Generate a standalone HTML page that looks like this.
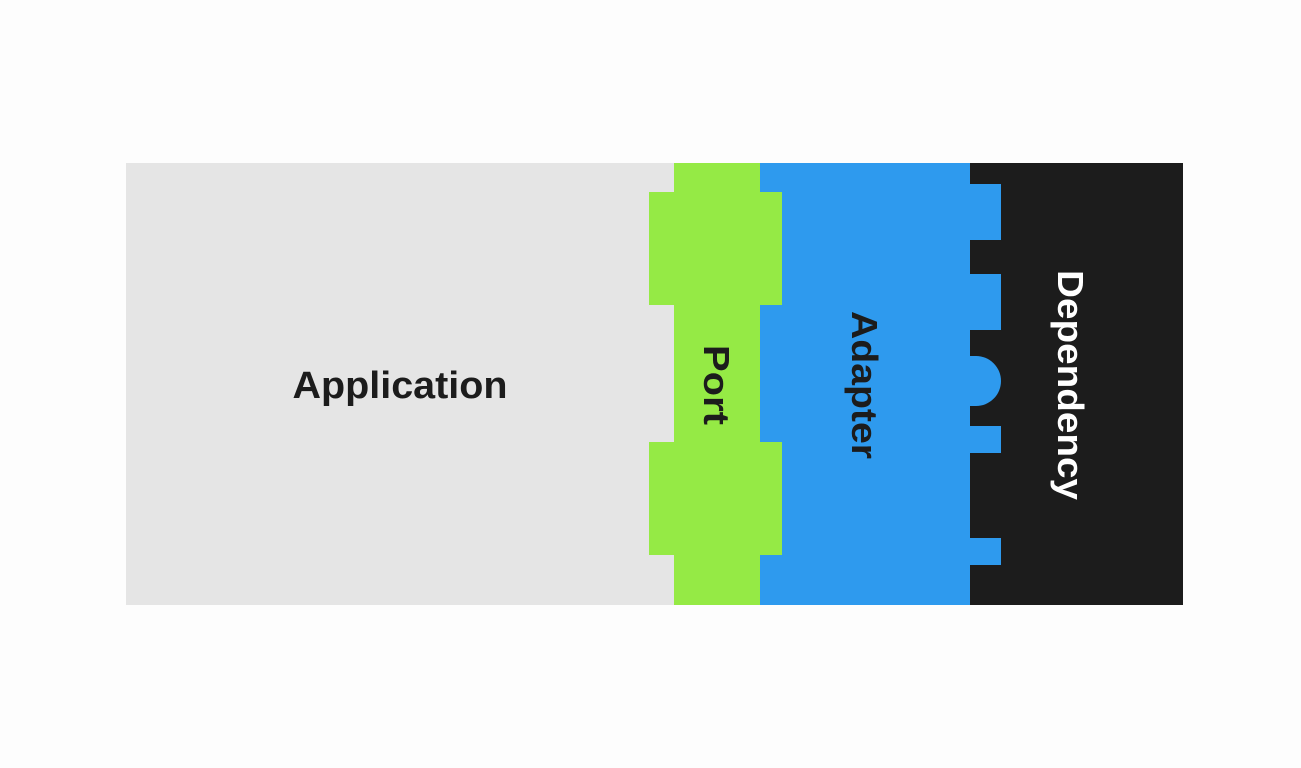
<!DOCTYPE html>
<html><head><meta charset="utf-8"><style>html,body{margin:0;padding:0;background:#fdfdfd;}svg{display:block}</style></head>
<body>
<svg width="1301" height="768" xmlns="http://www.w3.org/2000/svg" font-family="Liberation Sans, sans-serif" font-weight="bold">
<rect x="0" y="0" width="1301" height="768" fill="#fdfdfd"/>
<rect x="126" y="163" width="548" height="442" fill="#e5e5e5"/>
<rect x="760" y="163" width="210" height="442" fill="#2e9aee"/>
<rect x="970" y="163" width="213" height="442" fill="#1c1c1c"/>
<g fill="#2e9aee">
<rect x="970" y="184" width="31" height="56"/>
<rect x="970" y="274" width="31" height="56"/>
<circle cx="976" cy="381" r="25"/>
<rect x="960" y="356" width="16" height="50"/>
<rect x="970" y="426" width="31" height="27"/>
<rect x="970" y="538" width="31" height="27"/>
</g>
<g fill="#95ea45">
<rect x="674" y="163" width="86" height="442"/>
<rect x="649" y="192" width="133" height="113"/>
<rect x="649" y="442" width="133" height="113"/>
</g>
<text x="400" y="398" font-size="38" text-anchor="middle" fill="#1c1c1c" textLength="215" lengthAdjust="spacingAndGlyphs">Application</text>
<text transform="translate(704,385) rotate(90)" font-size="36" text-anchor="middle" fill="#1c1c1c" textLength="80" lengthAdjust="spacingAndGlyphs">Port</text>
<text transform="translate(852,385) rotate(90)" font-size="36" text-anchor="middle" fill="#1c1c1c" textLength="148" lengthAdjust="spacingAndGlyphs">Adapter</text>
<text transform="translate(1058,385) rotate(90)" font-size="36" text-anchor="middle" fill="#ffffff" textLength="230" lengthAdjust="spacingAndGlyphs">Dependency</text>
</svg>
</body></html>
